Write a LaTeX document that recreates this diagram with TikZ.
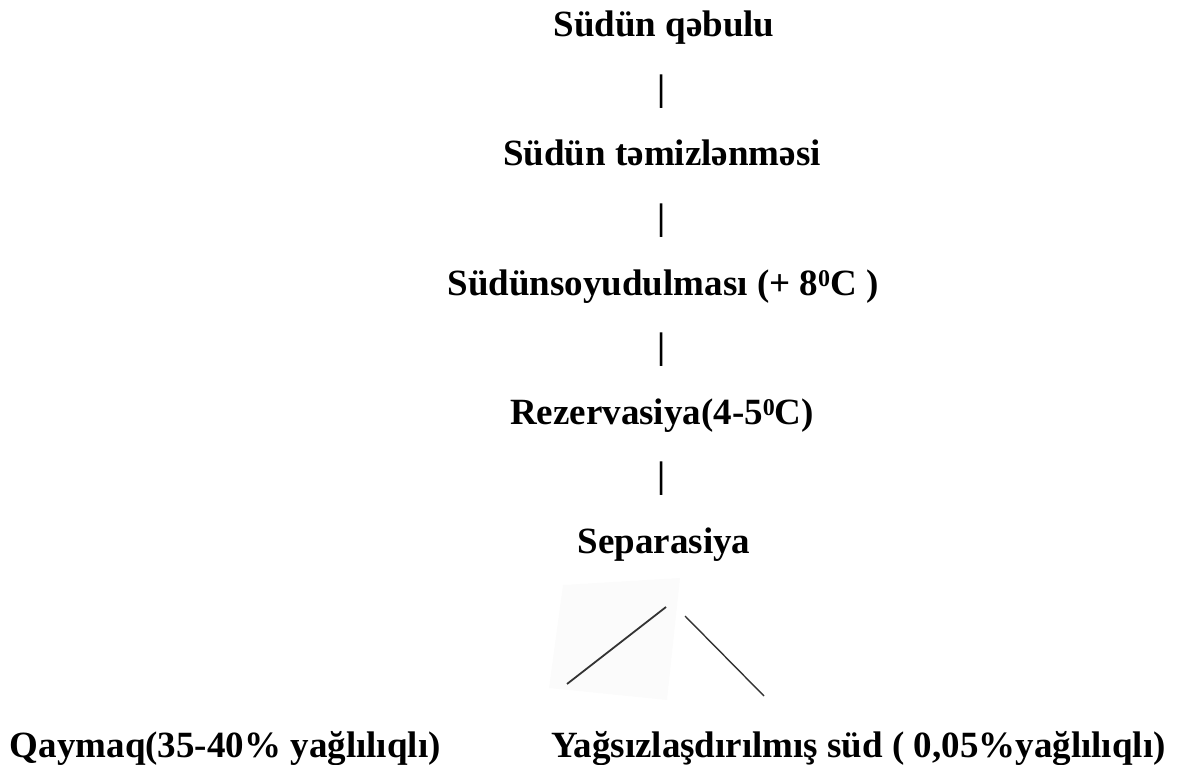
\documentclass[tikz,border=0pt]{standalone}
\usepackage{fontspec}
\setmainfont{Liberation Serif}
\newcommand{\supzero}{\raisebox{0.22em}{\fontsize{12}{12}\selectfont 0}}
\tikzset{
  step box/.style={inner sep=0pt, outer sep=0pt, anchor=base, font=\fontsize{18.5}{20}\selectfont\bfseries},
  product/.style={inner sep=0pt, outer sep=0pt, anchor=base west, font=\fontsize{18.5}{20}\selectfont\bfseries},
  bar/.style={inner sep=0pt, outer sep=0pt, anchor=center, font=\fontsize{18.5}{20}\selectfont\bfseries},
  branch/.style={line width=0.9pt, black!80}
}
\begin{document}
\begin{tikzpicture}[x=0.5pt,y=-0.5pt]
	\useasboundingbox (0,0) rectangle (1179,765);
	% steps
	\node[step box] (SA) at (664,37) {Südün qəbulu};
	\node[bar] (BA) at (662,92) {|};
	\node[step box] (SB) at (662,166) {Südün təmizlənməsi};
	\node[bar] (BB) at (662,221) {|};
	\node[step box] (SC) at (663,295) {Südünsoyudulması (+ 8\supzero C )};
	\node[bar] (BC) at (662,350) {|};
	\node[step box] (SD) at (662,424) {Rezervasiya(4-5\supzero C)};
	\node[bar] (BD) at (662,479) {|};
	\node[step box] (SE) at (664,553) {Separasiya};
	
	% faint patch behind the left branch
	\fill[black!1.5] (563,585) -- (680,578) -- (667,700) -- (549,688) -- cycle;
	
	% branch ends
	\coordinate (LA) at (666,607);
	\coordinate (LB) at (567,684);
	\coordinate (RA) at (685,616);
	\coordinate (RB) at (764,696);
	\draw[branch] (LA)--(LB);
	\draw[branch, line width=0.7pt] (RA)--(RB);
	
	% products
	\node[product] (PA) at (10,757) {Qaymaq(35-40\% yağlılıqlı)};
	\node[product] (PB) at (551,757) {Yağsızlaşdırılmış süd ( 0,05\%yağlılıqlı)};
\end{tikzpicture}
\end{document}
